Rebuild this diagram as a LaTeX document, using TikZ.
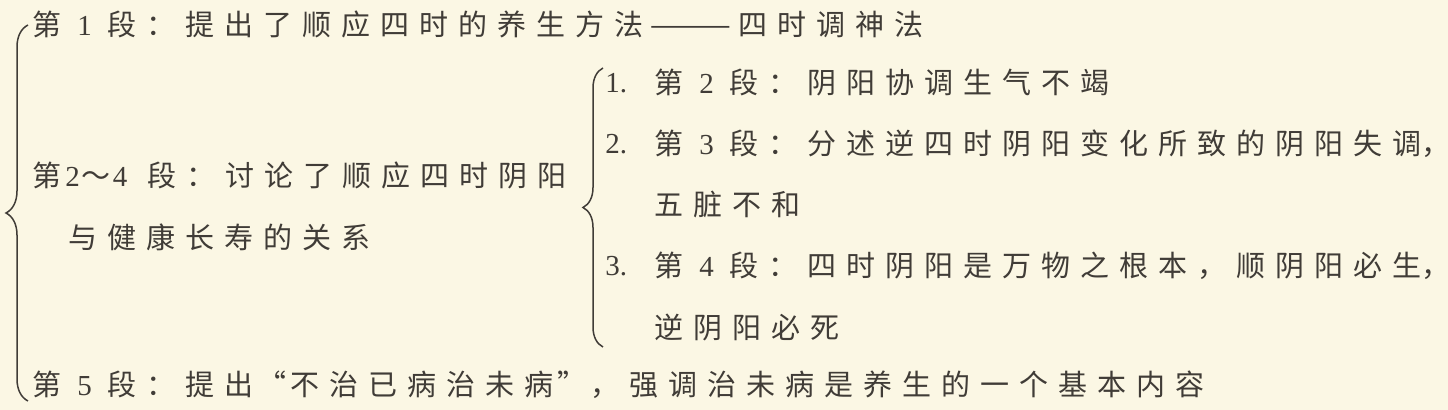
\documentclass[tikz,border=0pt]{standalone}
\usepackage{fontspec}
\setmainfont{Noto Sans CJK SC}[LetterSpace=34.5]
\newfontfamily\numfont{Liberation Serif}
\newfontfamily\plainfont{Noto Sans CJK SC}
\usetikzlibrary{calc,positioning,decorations.pathreplacing}
\definecolor{paper}{HTML}{FBF7E4}
\definecolor{ink}{HTML}{403C37}
\newcommand{\nm}[1]{\kern8pt{\numfont #1}\kern8pt}
\newcommand{\qm}[1]{\kern2pt{\addfontfeatures{RawFeature=+fwid}#1}\kern2pt}

\begin{document}
\begin{tikzpicture}[x=0.5pt,y=-0.5pt,node distance=30.5pt,
  every node/.style={inner sep=0pt,text=ink,font=\fontsize{14.5pt}{17pt}\selectfont},
  line/.style={anchor=west},
  curly/.style={draw=ink,line width=0.75pt,decorate,decoration={brace,amplitude=#1}}]
\fill[paper] (0,0) rectangle (1448,410);
\useasboundingbox (0,0) rectangle (1448,410);
% left column
\node (p1) [line] at (32,24) {第\nm{1}段：提出了顺应四时的养生方法\kern3pt{\plainfont\scalebox{1.7}[1]{——}}\kern3pt四时调神法};
\node (p24) [line] at (32,175) {第\kern2pt{\numfont 2}\kern1pt～\kern1pt{\numfont 4}\kern10pt段：讨论了顺应四时阴阳};
\node (p24b) [line] at (68,237) {与健康长寿的关系};
\node (p5) [line] at (32,385) {第\nm{5}段：提出\qm{“}不治已病治未病\qm{”}，强调治未病是养生的一个基本内容};
% right column
\node (n1) [line] at (605,83) {\numfont 1.};
\node (r1) [line] at (654,83) {第\nm{2}段：阴阳协调生气不竭};
\node (r2) [below=of r1.west,line] {第\nm{3}段：分述逆四时阴阳变化所致的阴阳失调{\plainfont ，}\kern-14pt};
\node (r2b) [below=of r2.west,line] {五脏不和};
\node (r3) [below=of r2b.west,line] {第\nm{4}段：四时阴阳是万物之根本，顺阴阳必生{\plainfont ，}\kern-14pt};
\node (r3b) [below=of r3.west,line] {逆阴阳必死};
\node (n2) [line] at (n1.west |- r2.west) {\numfont 2.};
\node (n3) [line] at (n1.west |- r3.west) {\numfont 3.};
% braces
\draw[curly=11pt] ($(p5.west)+(-4,16)$) -- ($(p1.west)+(-4,1)$);
\draw[curly=10pt] ($(n1.west |- r3b.west)+(-2,20)$) -- ($(n1.west)+(-2,-15)$);
\end{tikzpicture}
\end{document}
